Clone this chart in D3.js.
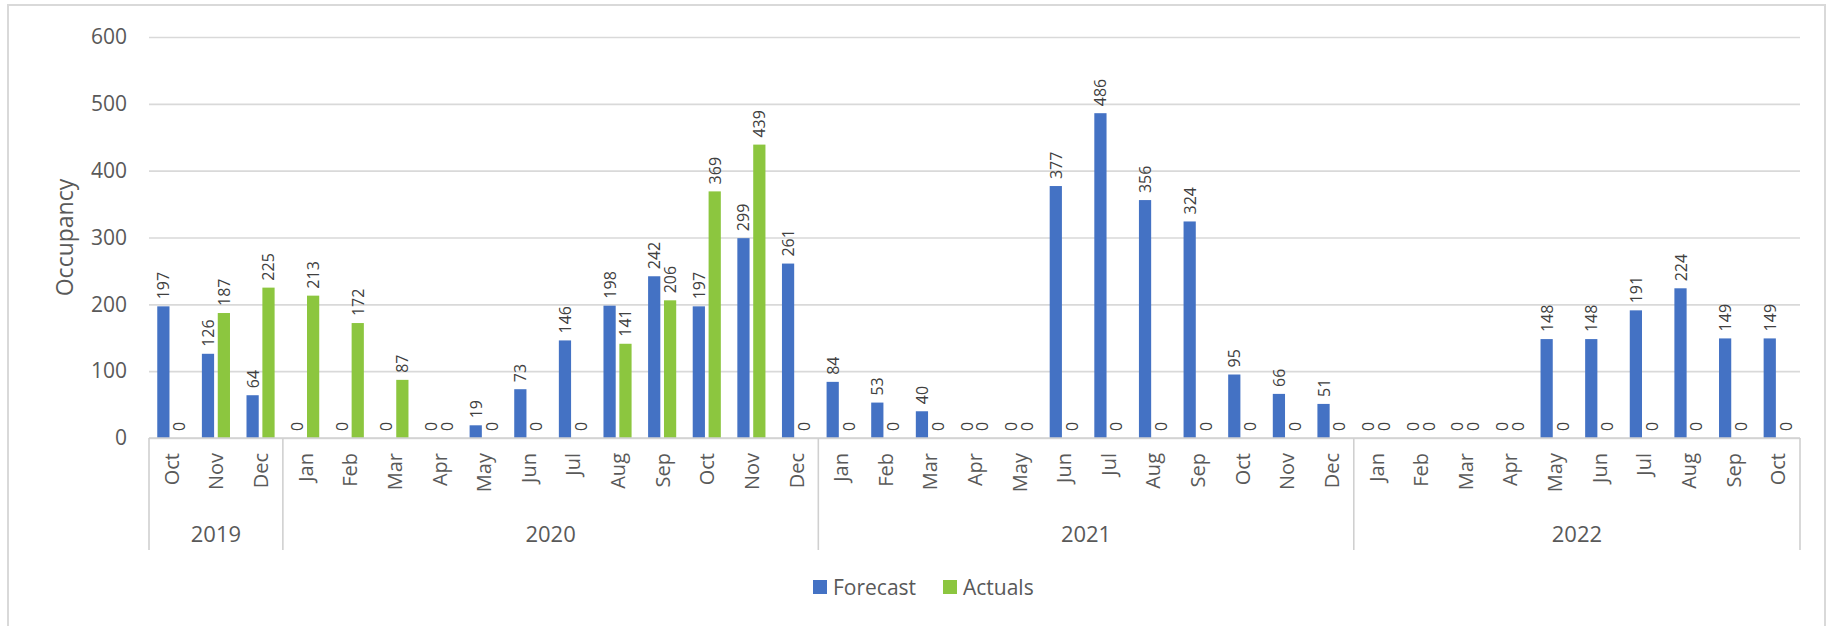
<!DOCTYPE html>
<html>
<head>
<meta charset="utf-8">
<script src="https://cdn.jsdelivr.net/npm/d3@7"></script>
<style>
  html, body { margin: 0; padding: 0; background: #fff; }
  svg { display: block; font-family: "Open Sans", "Noto Sans", sans-serif; }
</style>
</head>
<body>
<svg id="chart" width="1835" height="626"></svg>
<script>
// ---- data ----
const years = ["2019", "2020", "2021", "2022"];
const yearMonths = [
  ["Oct", "Nov", "Dec"],
  ["Jan", "Feb", "Mar", "Apr", "May", "Jun", "Jul", "Aug", "Sep", "Oct", "Nov", "Dec"],
  ["Jan", "Feb", "Mar", "Apr", "May", "Jun", "Jul", "Aug", "Sep", "Oct", "Nov", "Dec"],
  ["Jan", "Feb", "Mar", "Apr", "May", "Jun", "Jul", "Aug", "Sep", "Oct"]
];
const forecast = [
  197, 126, 64,
  0, 0, 0, 0, 19, 73, 146, 198, 242, 197, 299, 261,
  84, 53, 40, 0, 0, 377, 486, 356, 324, 95, 66, 51,
  0, 0, 0, 0, 148, 148, 191, 224, 149, 149
];
const actuals = [
  0, 187, 225,
  213, 172, 87, 0, 0, 0, 0, 141, 206, 369, 439, 0,
  0, 0, 0, 0, 0, 0, 0, 0, 0, 0, 0, 0,
  0, 0, 0, 0, 0, 0, 0, 0, 0, 0
];
const seriesNames = ["Forecast", "Actuals"];
const seriesColors = ["#4472C4", "#8CC63F"];
const yTicks = [0, 100, 200, 300, 400, 500, 600];
const yTitle = "Occupancy";

// ---- build categories ----
const cats = [];
yearMonths.forEach((ms, yi) => ms.forEach(m => cats.push({ year: years[yi], month: m, key: years[yi] + "-" + m })));
const rows = cats.map((c, i) => ({ ...c, values: [forecast[i], actuals[i]] }));

// ---- layout ----
const svg = d3.select("#chart");
const plotLeft = 149, plotRight = 1800, plotTop = 37, plotBottom = 438;
const gray = "#595959";

// outer border
svg.append("rect").attr("x", 8).attr("y", 5).attr("width", 1817).attr("height", 640)
  .attr("fill", "#fff").attr("stroke", "#d9d9d9").attr("stroke-width", 2);

const x = d3.scaleBand().domain(cats.map(c => c.key)).range([plotLeft, plotRight]).paddingInner(0).paddingOuter(0);
const xs = d3.scaleBand().domain([0, 1]).range([0, x.bandwidth()]).paddingInner(0.23).paddingOuter(0.52);
const y = d3.scaleLinear().domain([0, 600]).range([plotBottom, plotTop]);

// gridlines + y axis labels
const yAxis = d3.axisLeft(y).tickValues(yTicks).tickSize(-(plotRight - plotLeft)).tickPadding(22);
const gy = svg.append("g").attr("transform", `translate(${plotLeft},0)`).call(yAxis);
gy.select(".domain").remove();
gy.selectAll(".tick line").attr("stroke", "#d9d9d9").attr("stroke-width", 1.6);
gy.selectAll(".tick text").attr("fill", gray).attr("font-size", 21).attr("font-family", "Open Sans");

// y title
svg.append("text").attr("transform", `translate(64,${(plotTop + plotBottom) / 2}) rotate(-90)`)
  .attr("text-anchor", "middle").attr("dominant-baseline", "central")
  .attr("font-size", 23).attr("fill", gray).text(yTitle);

// bars
const g = svg.append("g");
const catG = g.selectAll("g.cat").data(rows).join("g").attr("class", "cat")
  .attr("transform", d => `translate(${x(d.key)},0)`);
catG.selectAll("rect").data(d => d.values.map((v, i) => ({ v, i }))).join("rect")
  .attr("x", d => xs(d.i)).attr("width", xs.bandwidth())
  .attr("y", d => y(d.v)).attr("height", d => y(0) - y(d.v))
  .attr("fill", d => seriesColors[d.i]);

// data labels
catG.selectAll("text.lbl").data(d => d.values.map((v, i) => ({ v, i }))).join("text")
  .attr("class", "lbl")
  .attr("transform", d => `translate(${xs(d.i) + xs.bandwidth() / 2},${y(d.v) - 7}) rotate(-90)`)
  .attr("text-anchor", "start").attr("dominant-baseline", "central")
  .attr("font-size", 16).attr("fill", "#404040").text(d => d.v);

// x axis baseline
svg.append("line").attr("x1", plotLeft).attr("x2", plotRight).attr("y1", plotBottom).attr("y2", plotBottom)
  .attr("stroke", "#d0d0d0").attr("stroke-width", 1.6);

// month labels
svg.append("g").selectAll("text").data(cats).join("text")
  .attr("transform", d => `translate(${x(d.key) + x.bandwidth() / 2},453) rotate(-90)`)
  .attr("text-anchor", "end").attr("dominant-baseline", "central")
  .attr("font-size", 20).attr("fill", gray).text(d => d.month);

// year groups
let start = 0;
const yearSpans = yearMonths.map((ms, yi) => {
  const s = { year: years[yi], x0: x(cats[start].key), x1: x(cats[start + ms.length - 1].key) + x.bandwidth() };
  start += ms.length;
  return s;
});
const bounds = [yearSpans[0].x0].concat(yearSpans.map(s => s.x1));
svg.append("g").selectAll("line").data(bounds).join("line")
  .attr("x1", d => d).attr("x2", d => d).attr("y1", plotBottom).attr("y2", 550)
  .attr("stroke", "#d0d0d0").attr("stroke-width", 1.6);
svg.append("g").selectAll("text").data(yearSpans).join("text")
  .attr("x", d => (d.x0 + d.x1) / 2).attr("y", 533)
  .attr("text-anchor", "middle").attr("dominant-baseline", "central")
  .attr("font-size", 22).attr("fill", gray).text(d => d.year);

// legend
const legend = svg.append("g").attr("transform", "translate(813,587)");
const legX = [0, 130];
seriesNames.forEach((n, i) => {
  legend.append("rect").attr("x", legX[i]).attr("y", -7).attr("width", 14).attr("height", 14).attr("fill", seriesColors[i]);
  legend.append("text").attr("x", legX[i] + 20).attr("y", 0).attr("dominant-baseline", "central")
    .attr("font-size", 21).attr("fill", gray).text(n);
});
</script>
</body>
</html>
